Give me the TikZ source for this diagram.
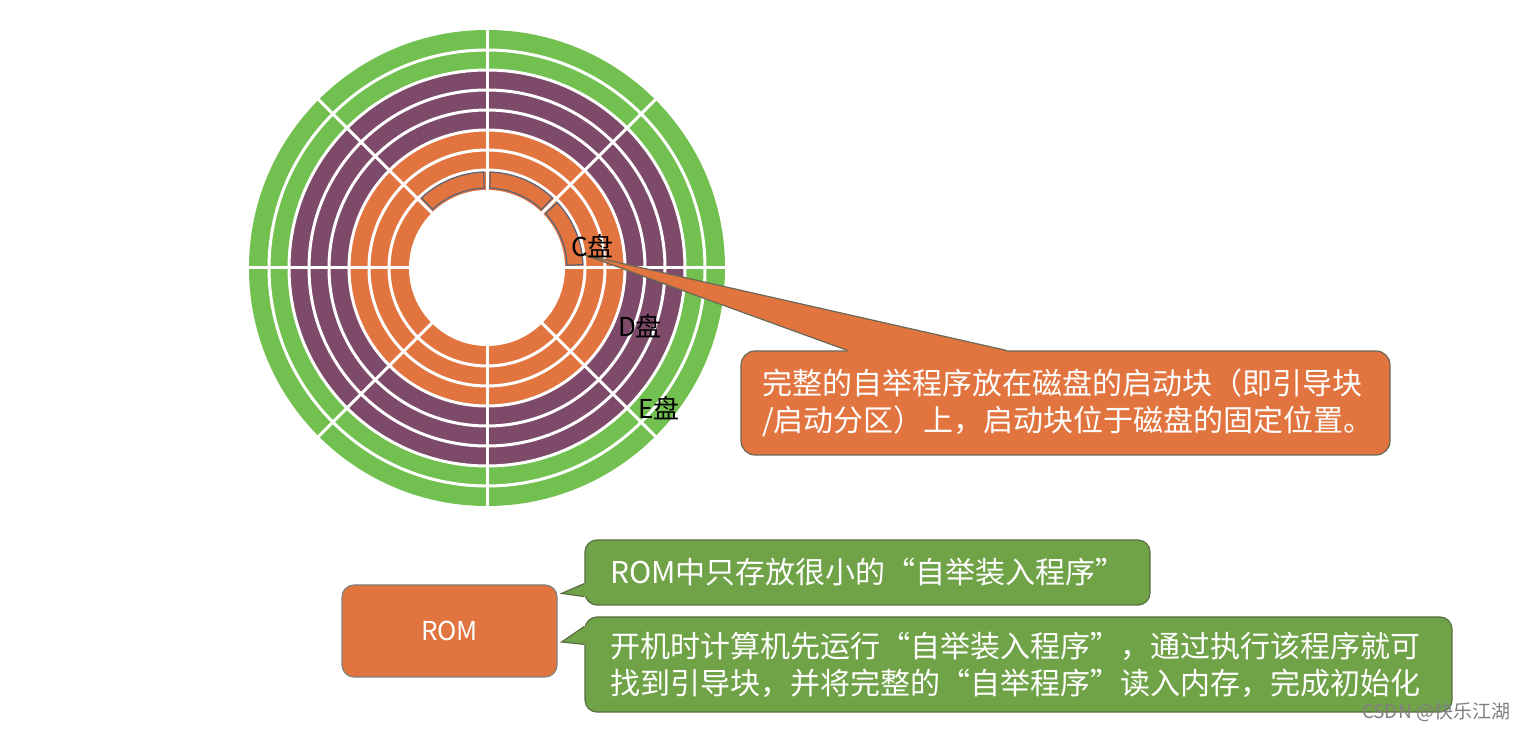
\documentclass[tikz,border=0pt]{standalone}
\usepackage{fontspec}
\newfontfamily\cjk{Noto Sans CJK SC}
\usetikzlibrary{calc}
\definecolor{diskgreen}{RGB}{114,193,80}
\definecolor{diskpurple}{RGB}{126,74,106}
\definecolor{diskorange}{RGB}{225,116,63}
\definecolor{notegreen}{RGB}{112,162,71}
\definecolor{edgegray}{RGB}{105,105,88}
\definecolor{notegray}{RGB}{88,110,66}
\definecolor{sectorgray}{RGB}{90,100,120}
\newcommand{\tail}[5]{\fill[#1] ($(#2)+(#5)$) -- (#2) -- (#3) -- (#4) -- ($(#4)+(#5)$) -- cycle;
  \draw[wedge] (#2) -- (#3) -- (#4);}

\begin{document}
\begin{tikzpicture}[x=1pt, y=1pt,
track/.style={white, line width=3pt},
sector/.style={draw=sectorgray, line width=1.2pt},
disklabel/.style={font=\cjk\fontsize{26pt}{26pt}\selectfont, text=black, inner sep=0pt},
bubble/.style={rounded corners=14pt, line width=1.2pt, text=white, align=left, inner sep=0pt,
  font=\cjk\fontsize{30pt}{37pt}\selectfont}]
\tikzstyle{wedge}=[line width=1.2pt, draw=edgegray]
\def\rin{78}
\def\rout{238}
\useasboundingbox (0,0) rectangle (1526,731);
%disk
\coordinate (hub) at (487,463);
\fill[diskgreen] (hub) circle (\rout);
\fill[diskpurple] (hub) circle (198);
\fill[diskorange] (hub) circle (138);
\fill[white] (hub) circle (\rin);
\foreach \r in {98,118,...,218}
  \draw[track] (hub) circle (\r);
\foreach \a in {0,45,...,315}
  \draw[track] ($(hub)+(\a:\rin)$) -- ($(hub)+(\a:240)$);
\begin{scope}[shift={(hub)}]
\foreach \a/\b in {2/43, 47/88, 92/133}
  \draw[sector] (\a:80) arc (\a:\b:80) -- (\b:96) arc (\b:\a:96) -- cycle;
\end{scope}
%boot block callout
\node[bubble, fill=diskorange, draw=edgegray, minimum width=649pt, minimum height=104pt,
  text width=607pt] (boot) at (1065.5,328)
  {完整的自举程序放在磁盘的启动块（即引导块\\/启动分区）上，启动块位于磁盘的固定位置。};
\coordinate (boottip) at (585,476);
\coordinate (bootl) at ($(boot.north west)+(107,0)$);
\coordinate (bootr) at ($(boot.north west)+(266,0)$);
\tail{diskorange}{bootl}{boottip}{bootr}{0,-2}
\node[disklabel] (cdisk) at (592.5,484.5) {C盘};
\node[disklabel] (ddisk) at (640,405) {D盘};
\node[disklabel] (edisk) at (659,323) {E盘};
%ROM
\node[bubble, fill=diskorange, draw=gray, rounded corners=12pt, minimum width=215pt,
  minimum height=92pt, font=\cjk\fontsize{26pt}{26pt}\selectfont] (rom) at (449.5,100) {ROM};
\node[bubble, fill=notegreen, draw=notegray, rounded corners=12pt, minimum width=565pt,
  minimum height=65pt, text width=515pt] (small) at (867.5,158.5)
  {ROM中只存放很小的“自举装入程序”};
\node[bubble, fill=notegreen, draw=notegray, rounded corners=12pt, minimum width=867pt,
  minimum height=95pt, text width=817pt] (start) at (1018.5,66.5)
  {开机时计算机先运行“自举装入程序”，通过执行该程序就可\\找到引导块，并将完整的“自举程序”读入内存，完成初始化};
\tikzstyle{wedge}=[line width=1.2pt, draw=notegray]
\coordinate (smalltip) at ($(rom.north east)+(4,-9)$);
\coordinate (smallu) at ($(small.south west)+(0,22)$);
\coordinate (smalld) at ($(small.south west)+(0,9)$);
\tail{notegreen}{smallu}{smalltip}{smalld}{2,0}
\coordinate (starttip) at ($(rom.east)+(4,-11)$);
\coordinate (startu) at ($(start.north west)+(0,-10)$);
\coordinate (startd) at ($(start.north west)+(0,-28)$);
\tail{notegreen}{startu}{starttip}{startd}{2,0}
\node[font=\cjk\fontsize{19pt}{19pt}\selectfont, text=gray, inner sep=0pt] (mark) at (1436,19) {CSDN @快乐江湖};
\end{tikzpicture}
\end{document}
